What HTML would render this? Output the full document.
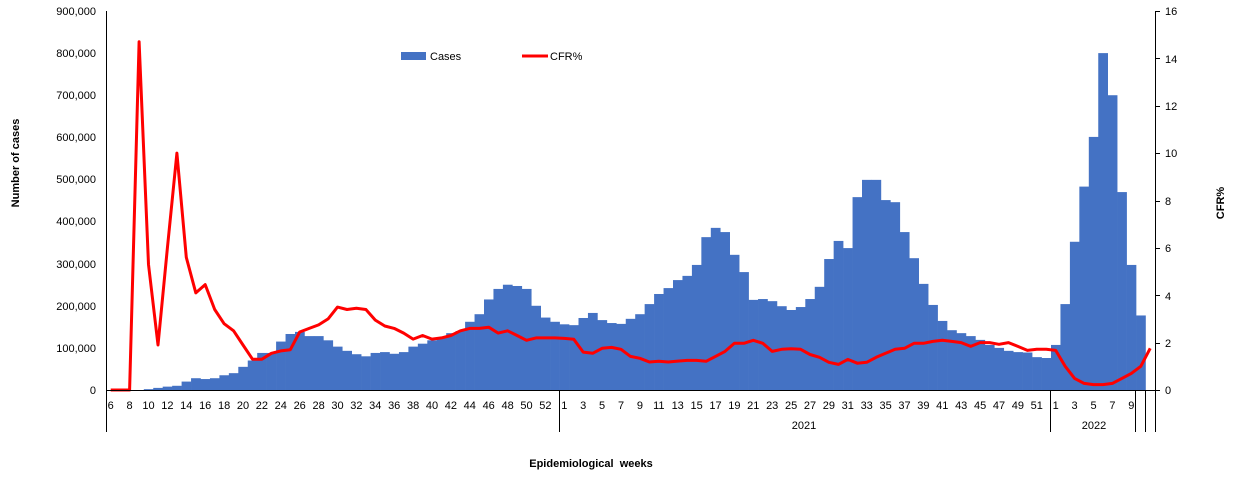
<!DOCTYPE html>
<html><head><meta charset="utf-8"><style>
body{margin:0;background:#fff;}
svg{display:block;font-family:"Liberation Sans","DejaVu Sans",sans-serif;}
.t{font-size:11px;fill:#000;}
.b{font-size:11px;font-weight:bold;fill:#000;}
</style></head><body>
<svg id="s" width="1233" height="477" viewBox="0 0 1233 477" xmlns="http://www.w3.org/2000/svg">
<g id="bars" fill="#4472C4"></g>
<polyline id="cfr" fill="none" stroke="#FF0000" stroke-width="3" stroke-linejoin="round" points=""/>
<g stroke="#000" stroke-width="1">
<line x1="106.5" y1="11" x2="106.5" y2="432"/>
<line x1="106" y1="390.5" x2="1155" y2="390.5"/>
<line x1="1155.5" y1="11" x2="1155.5" y2="432"/>
<line x1="559.5" y1="390" x2="559.5" y2="432"/>
<line x1="1050.5" y1="390" x2="1050.5" y2="432"/>
<line x1="1135.5" y1="390" x2="1135.5" y2="432"/>
<line x1="1145.5" y1="390" x2="1145.5" y2="432"/>
<g id="ticks"></g>
</g>
<g class="t" text-anchor="end">
<text x="96" y="15">900,000</text><text x="96" y="57">800,000</text><text x="96" y="99">700,000</text>
<text x="96" y="141">600,000</text><text x="96" y="183">500,000</text><text x="96" y="225">400,000</text>
<text x="96" y="268">300,000</text><text x="96" y="310">200,000</text><text x="96" y="352">100,000</text>
<text x="96" y="394">0</text>
</g>
<g class="t">
<text x="1165" y="15">16</text><text x="1165" y="63">14</text><text x="1165" y="110">12</text>
<text x="1165" y="157">10</text><text x="1165" y="205">8</text><text x="1165" y="252">6</text>
<text x="1165" y="300">4</text><text x="1165" y="347">2</text><text x="1165" y="394">0</text>
</g>
<g class="t" text-anchor="middle">
<text x="110.7" y="409">6</text><text x="129.6" y="409">8</text><text x="148.5" y="409">10</text><text x="167.4" y="409">12</text>
<text x="186.3" y="409">14</text><text x="205.2" y="409">16</text><text x="224.1" y="409">18</text><text x="243" y="409">20</text>
<text x="261.9" y="409">22</text><text x="280.8" y="409">24</text><text x="299.7" y="409">26</text><text x="318.6" y="409">28</text>
<text x="337.5" y="409">30</text><text x="356.4" y="409">32</text><text x="375.3" y="409">34</text><text x="394.2" y="409">36</text>
<text x="413.1" y="409">38</text><text x="432" y="409">40</text><text x="450.9" y="409">42</text><text x="469.8" y="409">44</text>
<text x="488.7" y="409">46</text><text x="507.6" y="409">48</text><text x="526.5" y="409">50</text><text x="545.4" y="409">52</text>
<text x="564.3" y="409">1</text><text x="583.2" y="409">3</text><text x="602.1" y="409">5</text><text x="621" y="409">7</text>
<text x="639.9" y="409">9</text><text x="658.8" y="409">11</text><text x="677.7" y="409">13</text><text x="696.6" y="409">15</text>
<text x="715.5" y="409">17</text><text x="734.4" y="409">19</text><text x="753.3" y="409">21</text><text x="772.2" y="409">23</text>
<text x="791.1" y="409">25</text><text x="810" y="409">27</text><text x="828.9" y="409">29</text><text x="847.8" y="409">31</text>
<text x="866.7" y="409">33</text><text x="885.6" y="409">35</text><text x="904.5" y="409">37</text><text x="923.4" y="409">39</text>
<text x="942.3" y="409">41</text><text x="961.2" y="409">43</text><text x="980.1" y="409">45</text><text x="999" y="409">47</text>
<text x="1017.9" y="409">49</text><text x="1036.8" y="409">51</text>
<text x="1055.7" y="409">1</text><text x="1074.6" y="409">3</text><text x="1093.5" y="409">5</text><text x="1112.4" y="409">7</text><text x="1131.3" y="409">9</text>
<text x="804" y="429">2021</text><text x="1094" y="429">2022</text>
</g>
<text class="b" x="591" y="467" text-anchor="middle">Epidemiological&#160; weeks</text>
<text class="b" x="0" y="0" text-anchor="middle" transform="translate(19,163) rotate(-90)">Number of cases</text>
<text class="b" x="0" y="0" text-anchor="middle" transform="translate(1224,203) rotate(-90)">CFR%</text>
<rect x="401" y="52" width="25" height="8" fill="#4472C4"/>
<text class="t" x="430" y="60">Cases</text>
<line x1="522" y1="56" x2="548" y2="56" stroke="#FF0000" stroke-width="3"/>
<text class="t" x="550" y="60">CFR%</text>
</svg>
<script>
var cases=[0,0,0,0,2000,5000,8000,10000,20000,28000,26000,28000,35000,40000,55000,70000,88000,88000,115000,133000,138000,128000,128000,118000,103000,93000,85000,80000,88000,90000,86000,90000,103000,110000,118000,125000,135000,140000,162000,180000,215000,240000,250000,247000,240000,200000,172000,162000,
156000,154000,171000,183000,166000,159000,157000,169000,180000,204000,228000,242000,261000,271000,297000,363000,385000,375000,321000,280000,214000,216000,211000,199000,190000,197000,216000,245000,311000,354000,337000,458000,499000,499000,451000,446000,375000,313000,252000,202000,164000,142000,135000,128000,119000,107000,100000,93000,90000,89000,78000,76000,
107000,204000,352000,483000,601000,800000,700000,470000,297000,177000];
var cfr=[0,0,0,14.7,5.3,1.9,6,10,5.6,4.1,4.45,3.4,2.8,2.5,1.9,1.3,1.3,1.55,1.65,1.7,2.45,2.6,2.75,3.0,3.5,3.4,3.45,3.4,2.95,2.7,2.6,2.4,2.15,2.3,2.15,2.2,2.3,2.5,2.6,2.6,2.65,2.4,2.5,2.3,2.1,2.2,2.2,2.2,
2.18,2.14,1.6,1.55,1.76,1.8,1.72,1.42,1.34,1.18,1.21,1.18,1.22,1.25,1.25,1.21,1.42,1.63,1.97,1.97,2.1,1.97,1.63,1.72,1.74,1.72,1.5,1.38,1.17,1.08,1.29,1.13,1.17,1.38,1.55,1.72,1.76,1.97,1.97,2.05,2.1,2.05,2.0,1.84,2.0,2.0,1.93,2.0,1.84,1.67,1.72,1.72,1.67,
1.0,0.49,0.28,0.23,0.23,0.28,0.49,0.7,1.0,1.76];
var W=9.45,X0=106,ns="http://www.w3.org/2000/svg",g=document.getElementById("bars"),pts=[];
for(var i=0;i<cases.length;i++){var h=cases[i]/900000*379;if(h>0){var r=document.createElementNS(ns,"rect");r.setAttribute("x",(X0+W*i).toFixed(2));r.setAttribute("width",(W+0.3).toFixed(2));r.setAttribute("y",(390-h).toFixed(2));r.setAttribute("height",h.toFixed(2));g.appendChild(r);}}
for(var i=0;i<cfr.length;i++){pts.push((X0+W*(i+0.5)).toFixed(1)+","+(390-cfr[i]/16*379).toFixed(1));}
document.getElementById("cfr").setAttribute("points",pts.join(" "));
var tk=document.getElementById("ticks");
for(var k=0;k<=8;k++){var y=Math.round(390-k*379/8)+0.5;var l=document.createElementNS(ns,"line");l.setAttribute("x1",1155);l.setAttribute("x2",1160);l.setAttribute("y1",y);l.setAttribute("y2",y);tk.appendChild(l);}
</script>
</body></html>
